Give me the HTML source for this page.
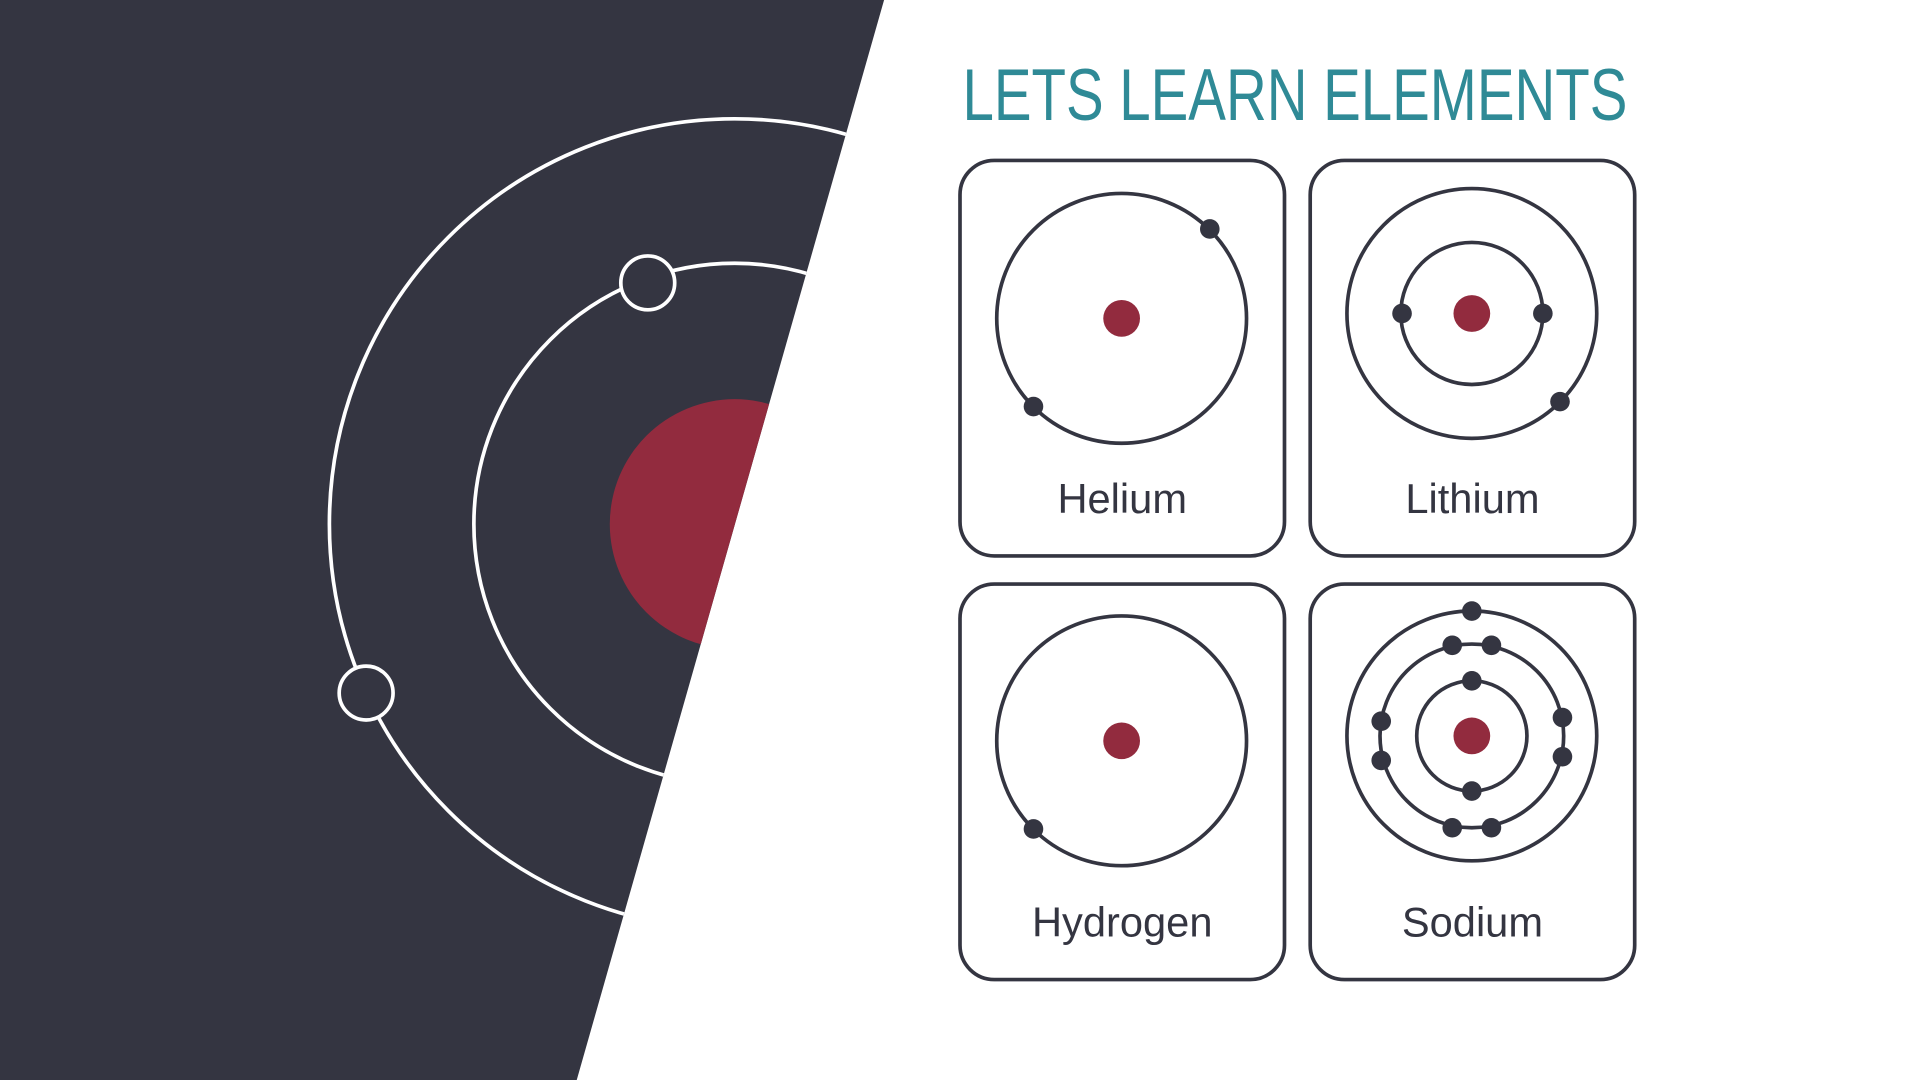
<!DOCTYPE html>
<html><head><meta charset="utf-8"><style>
html,body{margin:0;padding:0;background:#fff;width:1920px;height:1080px;overflow:hidden}
svg{display:block}
text{font-family:"Liberation Sans","DejaVu Sans",sans-serif}
</style></head><body>
<svg width="1920" height="1080" viewBox="0 0 1568 882" xmlns="http://www.w3.org/2000/svg">
<defs><clipPath id="dk"><polygon points="0,0 722,0 471,882 0,882"/></clipPath></defs>
<polygon points="0,0 722,0 471,882 0,882" fill="#343541"/>
<g clip-path="url(#dk)">
<circle cx="600" cy="428" r="102" fill="#922b3e"/>
<circle cx="600" cy="428" r="213" fill="none" stroke="#fff" stroke-width="3"/>
<circle cx="600" cy="428" r="331" fill="none" stroke="#fff" stroke-width="3"/>
<circle cx="529" cy="231" r="22" fill="#343541" stroke="#fff" stroke-width="3"/>
<circle cx="299" cy="566" r="22" fill="#343541" stroke="#fff" stroke-width="3"/>
</g>
<text x="786" y="98" font-size="60" fill="#2f8a96" textLength="543" lengthAdjust="spacingAndGlyphs">LETS LEARN ELEMENTS</text>
<g id="cards" stroke="#343541" stroke-width="3" fill="none"></g>
<g id="labels"></g>
<script>
const names=["Helium","Lithium","Hydrogen","Sodium"];
const shells=[[102],[58,102],[102],[45,75,102]];
const electrons=[
 [[988,187],[844,332]],
 [[1145,256],[1260,256],[1274,328]],
 [[844,677]],
 [[1202,556],[1202,646],[1186,527],[1218,527],[1186,676],[1218,676],[1128,589],[1128,621],[1276,586],[1276,618],[1202,499]]
];
const cardX=[784,1070,784,1070], cardY=[131,131,477,477];
const centers=[[916,260],[1202,256],[916,605],[1202,601]];
const NS="http://www.w3.org/2000/svg";
const g=document.getElementById('cards'), lg=document.getElementById('labels');
function mk(t,a,p){const e=document.createElementNS(NS,t);for(const k in a)e.setAttribute(k,a[k]);p.appendChild(e);return e;}
names.forEach((n,i)=>{
 const r=mk('rect',{x:cardX[i],y:cardY[i],width:265,height:323,rx:28},g);
 
 
 const [cx,cy]=centers[i];
 shells[i].forEach((s,j)=>{const c=mk('circle',{cx,cy,r:s},g);
  
  });
 const nu=mk('circle',{cx,cy,r:15,fill:'#922b3e',stroke:'none'},g);
 
 
 electrons[i].forEach((p,j)=>{const e=mk('circle',{cx:p[0],cy:p[1],r:8,fill:'#343541',stroke:'none'},g);
  
  });
 const t=mk('text',{x:cardX[i]+132.5,y:cardY[i]+288,'font-size':34,fill:'#343541','text-anchor':'middle'},lg);
 t.textContent=n;
 
 
});
</script>
</svg>
</body></html>
